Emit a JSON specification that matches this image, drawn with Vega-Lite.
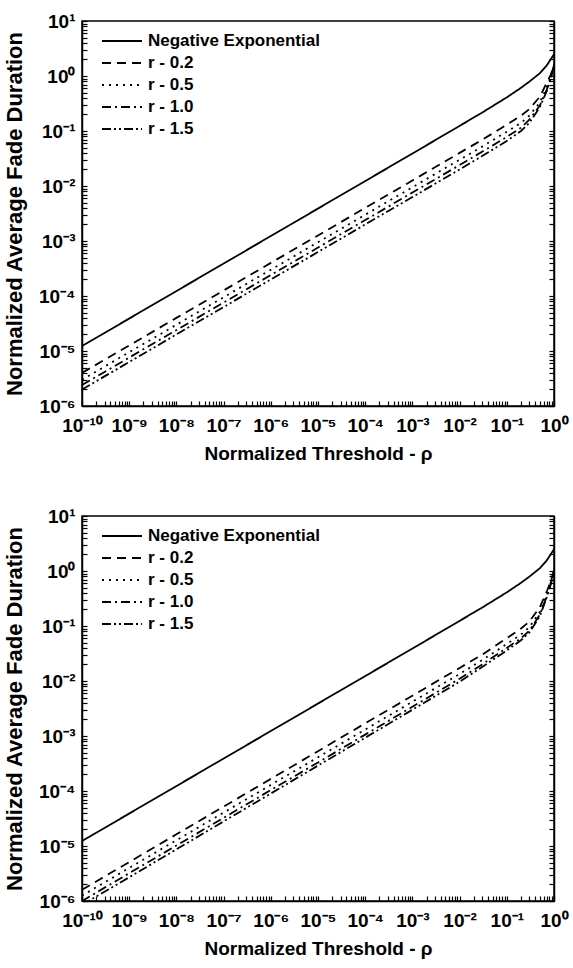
{
  "$schema": "https://vega.github.io/schema/vega-lite/v6.json",
  "padding": {"left": 2, "top": 11, "right": 0, "bottom": 5},
  "background": "white",
  "config": {
    "font": "Liberation Sans",
    "view": {"stroke": "black", "strokeWidth": 1.5},
    "axis": {"grid": false, "ticks": true, "tickSize": -5, "domainColor": "black", "domainWidth": 1.5, "tickColor": "black", "tickWidth": 1.2, "labelColor": "black", "labelFont": "Liberation Sans", "labelFontWeight": "bold", "labelFontSize": 19, "titleColor": "black", "titleFont": "Liberation Sans", "titleFontWeight": "bold", "titleFontSize": 19},
    "legend": {"title": null, "symbolType": "stroke", "symbolSize": 1600, "symbolStrokeWidth": 1.8, "symbolStrokeColor": "black", "labelFont": "Liberation Sans", "labelFontWeight": "bold", "labelFontSize": 17, "labelColor": "black", "labelOffset": 5, "labelLimit": 0, "clipHeight": 18, "rowPadding": 4, "padding": 0}
  },
  "datasets": {
    "p1": [
      {"x": 1e-10, "y": 1.23e-5, "s": "Negative Exponential"},
      {"x": 1e-9, "y": 3.89e-5, "s": "Negative Exponential"},
      {"x": 1e-8, "y": 1.23e-4, "s": "Negative Exponential"},
      {"x": 1e-7, "y": 3.89e-4, "s": "Negative Exponential"},
      {"x": 1e-6, "y": 1.23e-3, "s": "Negative Exponential"},
      {"x": 1e-5, "y": 3.89e-3, "s": "Negative Exponential"},
      {"x": 1e-4, "y": 1.23e-2, "s": "Negative Exponential"},
      {"x": 1e-3, "y": 3.89e-2, "s": "Negative Exponential"},
      {"x": 1e-2, "y": 0.124, "s": "Negative Exponential"},
      {"x": 0.03, "y": 0.216, "s": "Negative Exponential"},
      {"x": 0.1, "y": 0.409, "s": "Negative Exponential"},
      {"x": 0.2, "y": 0.61, "s": "Negative Exponential"},
      {"x": 0.3, "y": 0.79, "s": "Negative Exponential"},
      {"x": 0.5, "y": 1.12, "s": "Negative Exponential"},
      {"x": 0.7, "y": 1.55, "s": "Negative Exponential"},
      {"x": 0.85, "y": 2.0, "s": "Negative Exponential"},
      {"x": 1, "y": 2.5, "s": "Negative Exponential"},
      {"x": 1e-10, "y": 4.0e-6, "s": "r - 0.2"},
      {"x": 1e-9, "y": 1.26e-5, "s": "r - 0.2"},
      {"x": 1e-8, "y": 4.0e-5, "s": "r - 0.2"},
      {"x": 1e-7, "y": 1.26e-4, "s": "r - 0.2"},
      {"x": 1e-6, "y": 4.0e-4, "s": "r - 0.2"},
      {"x": 1e-5, "y": 1.26e-3, "s": "r - 0.2"},
      {"x": 1e-4, "y": 4.0e-3, "s": "r - 0.2"},
      {"x": 1e-3, "y": 1.26e-2, "s": "r - 0.2"},
      {"x": 1e-2, "y": 0.040, "s": "r - 0.2"},
      {"x": 0.03, "y": 0.069, "s": "r - 0.2"},
      {"x": 0.1, "y": 0.13, "s": "r - 0.2"},
      {"x": 0.2, "y": 0.19, "s": "r - 0.2"},
      {"x": 0.3, "y": 0.25, "s": "r - 0.2"},
      {"x": 0.5, "y": 0.42, "s": "r - 0.2"},
      {"x": 0.7, "y": 0.75, "s": "r - 0.2"},
      {"x": 0.85, "y": 1.05, "s": "r - 0.2"},
      {"x": 1, "y": 1.5, "s": "r - 0.2"},
      {"x": 1e-10, "y": 3.0e-6, "s": "r - 0.5"},
      {"x": 1e-9, "y": 9.5e-6, "s": "r - 0.5"},
      {"x": 1e-8, "y": 3.0e-5, "s": "r - 0.5"},
      {"x": 1e-7, "y": 9.5e-5, "s": "r - 0.5"},
      {"x": 1e-6, "y": 3.0e-4, "s": "r - 0.5"},
      {"x": 1e-5, "y": 9.5e-4, "s": "r - 0.5"},
      {"x": 1e-4, "y": 3.0e-3, "s": "r - 0.5"},
      {"x": 1e-3, "y": 9.5e-3, "s": "r - 0.5"},
      {"x": 1e-2, "y": 0.030, "s": "r - 0.5"},
      {"x": 0.03, "y": 0.052, "s": "r - 0.5"},
      {"x": 0.1, "y": 0.097, "s": "r - 0.5"},
      {"x": 0.2, "y": 0.14, "s": "r - 0.5"},
      {"x": 0.3, "y": 0.19, "s": "r - 0.5"},
      {"x": 0.5, "y": 0.33, "s": "r - 0.5"},
      {"x": 0.7, "y": 0.62, "s": "r - 0.5"},
      {"x": 0.85, "y": 0.95, "s": "r - 0.5"},
      {"x": 1, "y": 1.55, "s": "r - 0.5"},
      {"x": 1e-10, "y": 2.4e-6, "s": "r - 1.0"},
      {"x": 1e-9, "y": 7.6e-6, "s": "r - 1.0"},
      {"x": 1e-8, "y": 2.4e-5, "s": "r - 1.0"},
      {"x": 1e-7, "y": 7.6e-5, "s": "r - 1.0"},
      {"x": 1e-6, "y": 2.4e-4, "s": "r - 1.0"},
      {"x": 1e-5, "y": 7.6e-4, "s": "r - 1.0"},
      {"x": 1e-4, "y": 2.4e-3, "s": "r - 1.0"},
      {"x": 1e-3, "y": 7.6e-3, "s": "r - 1.0"},
      {"x": 1e-2, "y": 0.024, "s": "r - 1.0"},
      {"x": 0.03, "y": 0.042, "s": "r - 1.0"},
      {"x": 0.1, "y": 0.078, "s": "r - 1.0"},
      {"x": 0.2, "y": 0.115, "s": "r - 1.0"},
      {"x": 0.3, "y": 0.16, "s": "r - 1.0"},
      {"x": 0.5, "y": 0.29, "s": "r - 1.0"},
      {"x": 0.7, "y": 0.56, "s": "r - 1.0"},
      {"x": 0.85, "y": 0.9, "s": "r - 1.0"},
      {"x": 1, "y": 1.6, "s": "r - 1.0"},
      {"x": 1e-10, "y": 2.0e-6, "s": "r - 1.5"},
      {"x": 1e-9, "y": 6.3e-6, "s": "r - 1.5"},
      {"x": 1e-8, "y": 2.0e-5, "s": "r - 1.5"},
      {"x": 1e-7, "y": 6.3e-5, "s": "r - 1.5"},
      {"x": 1e-6, "y": 2.0e-4, "s": "r - 1.5"},
      {"x": 1e-5, "y": 6.3e-4, "s": "r - 1.5"},
      {"x": 1e-4, "y": 2.0e-3, "s": "r - 1.5"},
      {"x": 1e-3, "y": 6.3e-3, "s": "r - 1.5"},
      {"x": 1e-2, "y": 0.020, "s": "r - 1.5"},
      {"x": 0.03, "y": 0.035, "s": "r - 1.5"},
      {"x": 0.1, "y": 0.066, "s": "r - 1.5"},
      {"x": 0.2, "y": 0.10, "s": "r - 1.5"},
      {"x": 0.3, "y": 0.14, "s": "r - 1.5"},
      {"x": 0.5, "y": 0.27, "s": "r - 1.5"},
      {"x": 0.7, "y": 0.53, "s": "r - 1.5"},
      {"x": 0.85, "y": 0.88, "s": "r - 1.5"},
      {"x": 1, "y": 1.65, "s": "r - 1.5"}
    ],
    "p2": [
      {"x": 1e-10, "y": 1.23e-5, "s": "Negative Exponential"},
      {"x": 1e-9, "y": 3.89e-5, "s": "Negative Exponential"},
      {"x": 1e-8, "y": 1.23e-4, "s": "Negative Exponential"},
      {"x": 1e-7, "y": 3.89e-4, "s": "Negative Exponential"},
      {"x": 1e-6, "y": 1.23e-3, "s": "Negative Exponential"},
      {"x": 1e-5, "y": 3.89e-3, "s": "Negative Exponential"},
      {"x": 1e-4, "y": 1.23e-2, "s": "Negative Exponential"},
      {"x": 1e-3, "y": 3.89e-2, "s": "Negative Exponential"},
      {"x": 1e-2, "y": 0.124, "s": "Negative Exponential"},
      {"x": 0.03, "y": 0.216, "s": "Negative Exponential"},
      {"x": 0.1, "y": 0.409, "s": "Negative Exponential"},
      {"x": 0.2, "y": 0.61, "s": "Negative Exponential"},
      {"x": 0.3, "y": 0.79, "s": "Negative Exponential"},
      {"x": 0.5, "y": 1.12, "s": "Negative Exponential"},
      {"x": 0.7, "y": 1.55, "s": "Negative Exponential"},
      {"x": 0.85, "y": 2.0, "s": "Negative Exponential"},
      {"x": 1, "y": 2.5, "s": "Negative Exponential"},
      {"x": 1e-10, "y": 1.6e-6, "s": "r - 0.2"},
      {"x": 1e-9, "y": 5.1e-6, "s": "r - 0.2"},
      {"x": 1e-8, "y": 1.63e-5, "s": "r - 0.2"},
      {"x": 1e-7, "y": 5.2e-5, "s": "r - 0.2"},
      {"x": 1e-6, "y": 1.66e-4, "s": "r - 0.2"},
      {"x": 1e-5, "y": 5.3e-4, "s": "r - 0.2"},
      {"x": 1e-4, "y": 1.7e-3, "s": "r - 0.2"},
      {"x": 1e-3, "y": 5.4e-3, "s": "r - 0.2"},
      {"x": 1e-2, "y": 0.0173, "s": "r - 0.2"},
      {"x": 0.03, "y": 0.030, "s": "r - 0.2"},
      {"x": 0.1, "y": 0.060, "s": "r - 0.2"},
      {"x": 0.2, "y": 0.09, "s": "r - 0.2"},
      {"x": 0.3, "y": 0.12, "s": "r - 0.2"},
      {"x": 0.5, "y": 0.22, "s": "r - 0.2"},
      {"x": 0.7, "y": 0.42, "s": "r - 0.2"},
      {"x": 0.85, "y": 0.65, "s": "r - 0.2"},
      {"x": 1, "y": 1.0, "s": "r - 0.2"},
      {"x": 1e-10, "y": 1.25e-6, "s": "r - 0.5"},
      {"x": 1e-9, "y": 4.0e-6, "s": "r - 0.5"},
      {"x": 1e-8, "y": 1.27e-5, "s": "r - 0.5"},
      {"x": 1e-7, "y": 4.05e-5, "s": "r - 0.5"},
      {"x": 1e-6, "y": 1.29e-4, "s": "r - 0.5"},
      {"x": 1e-5, "y": 4.1e-4, "s": "r - 0.5"},
      {"x": 1e-4, "y": 1.31e-3, "s": "r - 0.5"},
      {"x": 1e-3, "y": 4.2e-3, "s": "r - 0.5"},
      {"x": 1e-2, "y": 0.0134, "s": "r - 0.5"},
      {"x": 0.03, "y": 0.024, "s": "r - 0.5"},
      {"x": 0.1, "y": 0.047, "s": "r - 0.5"},
      {"x": 0.2, "y": 0.07, "s": "r - 0.5"},
      {"x": 0.3, "y": 0.095, "s": "r - 0.5"},
      {"x": 0.5, "y": 0.18, "s": "r - 0.5"},
      {"x": 0.7, "y": 0.36, "s": "r - 0.5"},
      {"x": 0.85, "y": 0.6, "s": "r - 0.5"},
      {"x": 1, "y": 1.0, "s": "r - 0.5"},
      {"x": 1e-10, "y": 1.0e-6, "s": "r - 1.0"},
      {"x": 1e-9, "y": 3.2e-6, "s": "r - 1.0"},
      {"x": 1e-8, "y": 1.02e-5, "s": "r - 1.0"},
      {"x": 1e-7, "y": 3.25e-5, "s": "r - 1.0"},
      {"x": 1e-6, "y": 1.04e-4, "s": "r - 1.0"},
      {"x": 1e-5, "y": 3.3e-4, "s": "r - 1.0"},
      {"x": 1e-4, "y": 1.06e-3, "s": "r - 1.0"},
      {"x": 1e-3, "y": 3.4e-3, "s": "r - 1.0"},
      {"x": 1e-2, "y": 0.011, "s": "r - 1.0"},
      {"x": 0.03, "y": 0.020, "s": "r - 1.0"},
      {"x": 0.1, "y": 0.040, "s": "r - 1.0"},
      {"x": 0.2, "y": 0.06, "s": "r - 1.0"},
      {"x": 0.3, "y": 0.082, "s": "r - 1.0"},
      {"x": 0.5, "y": 0.16, "s": "r - 1.0"},
      {"x": 0.7, "y": 0.34, "s": "r - 1.0"},
      {"x": 0.85, "y": 0.58, "s": "r - 1.0"},
      {"x": 1, "y": 1.0, "s": "r - 1.0"},
      {"x": 1e-10, "y": 8.5e-7, "s": "r - 1.5"},
      {"x": 1e-9, "y": 2.7e-6, "s": "r - 1.5"},
      {"x": 1e-8, "y": 8.7e-6, "s": "r - 1.5"},
      {"x": 1e-7, "y": 2.8e-5, "s": "r - 1.5"},
      {"x": 1e-6, "y": 9.0e-5, "s": "r - 1.5"},
      {"x": 1e-5, "y": 2.9e-4, "s": "r - 1.5"},
      {"x": 1e-4, "y": 9.3e-4, "s": "r - 1.5"},
      {"x": 1e-3, "y": 3.0e-3, "s": "r - 1.5"},
      {"x": 1e-2, "y": 0.0097, "s": "r - 1.5"},
      {"x": 0.03, "y": 0.018, "s": "r - 1.5"},
      {"x": 0.1, "y": 0.036, "s": "r - 1.5"},
      {"x": 0.2, "y": 0.055, "s": "r - 1.5"},
      {"x": 0.3, "y": 0.076, "s": "r - 1.5"},
      {"x": 0.5, "y": 0.15, "s": "r - 1.5"},
      {"x": 0.7, "y": 0.33, "s": "r - 1.5"},
      {"x": 0.85, "y": 0.57, "s": "r - 1.5"},
      {"x": 1, "y": 1.0, "s": "r - 1.5"}
    ]
  },
  "spacing": 42,
  "resolve": {"scale": {"strokeDash": "independent"}, "legend": {"strokeDash": "independent"}},
  "vconcat": [
    {
      "width": 472, "height": 385,
      "data": {"name": "p1"},
      "resolve": {"axis": {"y": "independent"}},
      "encoding": {
        "x": {"field": "x", "type": "quantitative", "scale": {"type": "log", "domain": [1e-10, 1], "nice": false},
          "axis": {"title": "Normalized Threshold - ρ", "tickCount": 100, "labelOverlap": false, "labelFlush": false, "labelBound": false, "labelPadding": 15, "titlePadding": 9,
            "labelExpr": "abs(log(datum.value)/LN10 - round(log(datum.value)/LN10)) < 1e-6 ? '10' + replace(replace(replace(replace(replace(replace(replace(replace(replace(replace(replace('' + round(log(datum.value)/LN10),'-','⁻'),'0','⁰'),'1','¹'),'2','²'),'3','³'),'4','⁴'),'5','⁵'),'6','⁶'),'7','⁷'),'8','⁸'),'9','⁹') : ''"}}
      },
      "layer": [
        {
          "mark": {"type": "line", "clip": true, "color": "black", "strokeWidth": 1.8},
          "encoding": {
            "y": {"field": "y", "type": "quantitative", "scale": {"type": "log", "domain": [1e-6, 10], "nice": false},
              "axis": {"title": "Normalized Average Fade Duration", "titleFontSize": 22, "tickCount": 100, "labelOverlap": false, "labelFlush": false, "labelBound": false, "labelPadding": 12, "titlePadding": 12,
                "labelExpr": "abs(log(datum.value)/LN10 - round(log(datum.value)/LN10)) < 1e-6 ? '10' + replace(replace(replace(replace(replace(replace(replace(replace(replace(replace(replace('' + round(log(datum.value)/LN10),'-','⁻'),'0','⁰'),'1','¹'),'2','²'),'3','³'),'4','⁴'),'5','⁵'),'6','⁶'),'7','⁷'),'8','⁸'),'9','⁹') : ''"}},
            "strokeDash": {"field": "s", "type": "nominal",
              "scale": {"domain": ["Negative Exponential", "r - 0.2", "r - 0.5", "r - 1.0", "r - 1.5"], "range": [[1, 0], [9, 6], [2, 5], [9, 4, 2, 4], [9, 3, 2, 3, 2, 3]]},
              "legend": {"orient": "none", "legendX": 19, "legendY": 11}}
          }
        },
        {
          "mark": {"type": "line", "opacity": 0},
          "encoding": {
            "y": {"field": "y", "type": "quantitative", "axis": {"orient": "right", "labels": false, "title": null, "tickCount": 100}},
            "detail": {"field": "s", "type": "nominal"}
          }
        }
      ]
    },
    {
      "width": 472, "height": 385,
      "data": {"name": "p2"},
      "resolve": {"axis": {"y": "independent"}},
      "encoding": {
        "x": {"field": "x", "type": "quantitative", "scale": {"type": "log", "domain": [1e-10, 1], "nice": false},
          "axis": {"title": "Normalized Threshold - ρ", "tickCount": 100, "labelOverlap": false, "labelFlush": false, "labelBound": false, "labelPadding": 15, "titlePadding": 9,
            "labelExpr": "abs(log(datum.value)/LN10 - round(log(datum.value)/LN10)) < 1e-6 ? '10' + replace(replace(replace(replace(replace(replace(replace(replace(replace(replace(replace('' + round(log(datum.value)/LN10),'-','⁻'),'0','⁰'),'1','¹'),'2','²'),'3','³'),'4','⁴'),'5','⁵'),'6','⁶'),'7','⁷'),'8','⁸'),'9','⁹') : ''"}}
      },
      "layer": [
        {
          "mark": {"type": "line", "clip": true, "color": "black", "strokeWidth": 1.8},
          "encoding": {
            "y": {"field": "y", "type": "quantitative", "scale": {"type": "log", "domain": [1e-6, 10], "nice": false},
              "axis": {"title": "Normalized Average Fade Duration", "titleFontSize": 22, "tickCount": 100, "labelOverlap": false, "labelFlush": false, "labelBound": false, "labelPadding": 12, "titlePadding": 12,
                "labelExpr": "abs(log(datum.value)/LN10 - round(log(datum.value)/LN10)) < 1e-6 ? '10' + replace(replace(replace(replace(replace(replace(replace(replace(replace(replace(replace('' + round(log(datum.value)/LN10),'-','⁻'),'0','⁰'),'1','¹'),'2','²'),'3','³'),'4','⁴'),'5','⁵'),'6','⁶'),'7','⁷'),'8','⁸'),'9','⁹') : ''"}},
            "strokeDash": {"field": "s", "type": "nominal",
              "scale": {"domain": ["Negative Exponential", "r - 0.2", "r - 0.5", "r - 1.0", "r - 1.5"], "range": [[1, 0], [9, 6], [2, 5], [9, 4, 2, 4], [9, 3, 2, 3, 2, 3]]},
              "legend": {"orient": "none", "legendX": 19, "legendY": 11}}
          }
        },
        {
          "mark": {"type": "line", "opacity": 0},
          "encoding": {
            "y": {"field": "y", "type": "quantitative", "axis": {"orient": "right", "labels": false, "title": null, "tickCount": 100}},
            "detail": {"field": "s", "type": "nominal"}
          }
        }
      ]
    }
  ]
}
